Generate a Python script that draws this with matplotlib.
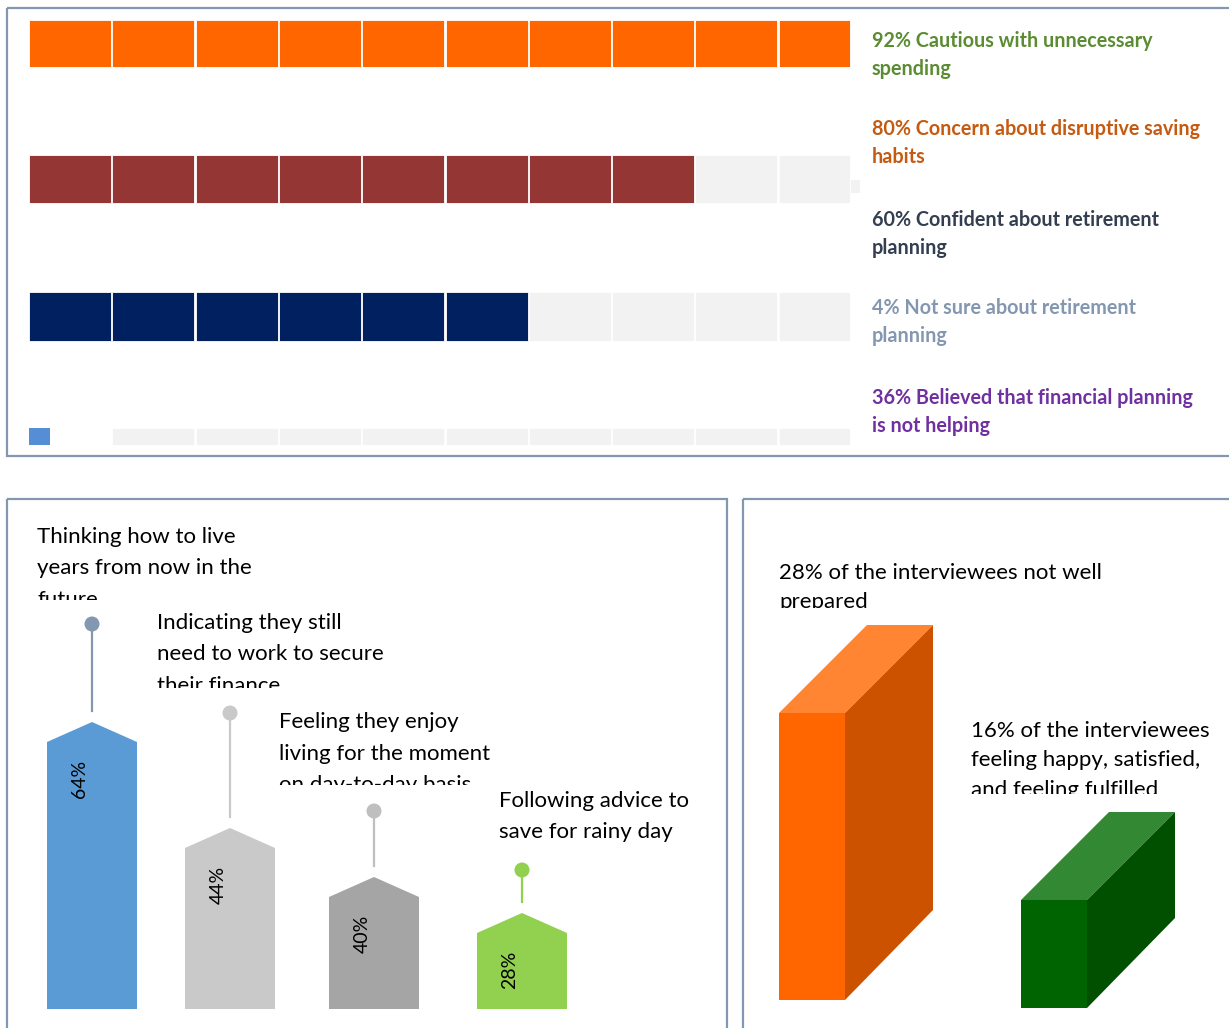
import numpy as np
import matplotlib.pyplot as plt
from matplotlib.patches import Rectangle, Polygon, Circle

plt.rcParams['font.family'] = ['Lato', 'DejaVu Sans']

# ---- data ----
# top panel: filled segments (out of 10) per row
seg_filled = [10, 8, 6, 0.25]
seg_colors = ['#FF6600', '#943634', '#002060', '#558ED5']
top_labels = [
    ['92% Cautious with unnecessary', 'spending'],
    ['80% Concern about disruptive saving', 'habits'],
    ['60% Confident about retirement', 'planning'],
    ['4% Not sure about retirement', 'planning'],
    ['36% Believed that financial planning', 'is not helping'],
]
top_label_colors = ['#5B8C32', '#C55A11', '#333F50', '#8497B0', '#7030A0']

# bottom left: pictogram bars
house_pct = ['64%', '44%', '40%', '28%']
house_height = [287, 181, 132, 96]      # drawn height incl. roof (px)
stem_len = [98, 115, 66, 43]            # pin length above the roof (px)
house_colors = ['#5B9BD5', '#C9C9C9', '#A5A5A5', '#92D050']
pin_colors = ['#8497B0', '#C9C9C9', '#BFBFBF', '#92D050']
house_text = [
    ['Thinking how to live', 'years from now in the', 'future'],
    ['Indicating they still', 'need to work to secure', 'their finance'],
    ['Feeling they enjoy', 'living for the moment', 'on day-to-day basis'],
    ['Following advice to', 'save for rainy day'],
]

# bottom right: 3d boxes
box_height = [287, 108]
box_colors = [('#FF6600', '#FF8533', '#CC5200'), ('#006400', '#338833', '#005000')]
box_text = [
    ['28% of the interviewees not well', 'prepared'],
    ['16% of the interviewees', 'feeling happy, satisfied,', 'and feeling fulfilled'],
]

W, H = 1229, 1028
fig = plt.figure(figsize=(W / 100, H / 100), dpi=100)
ax = fig.add_axes([0, 0, 1, 1])
ax.set_xlim(0, W)
ax.set_ylim(H, 0)
ax.axis('off')

border = '#8497B0'
for x0, y0, x1, y1 in [(7, 8, 1245, 456), (7, 499, 727, 1045), (743, 499, 1245, 1045)]:
    ax.add_patch(Rectangle((x0, y0), x1 - x0, y1 - y0, fill=False, ec=border, lw=1.6))

# ---- top panel ----
bar_x0, bar_end, step, seg_w = 29, 850, 83.3, 82
row_top = [20, 155, 292, 428]
row_h = [47, 48, 49, 17]
for r, n in enumerate(seg_filled):
    for i in range(10):
        left = bar_x0 + i * step
        w = min(seg_w, bar_end - left)
        if i < int(n):
            ax.barh(row_top[r], w, height=row_h[r], left=left, align='edge',
                    color=seg_colors[r], ec='white', lw=0.6)
        elif i == int(n) and n % 1:
            ax.barh(row_top[r], seg_w * (n % 1), height=row_h[r], left=left,
                    align='edge', color=seg_colors[r], lw=0)
        else:
            ax.barh(row_top[r], w, height=row_h[r], left=left, align='edge',
                    color='#F2F2F2', ec='white', lw=0.6)
# small stray tab at the end of the second row
ax.barh(180, 9, height=13, left=851, align='edge', color='#F2F2F2', lw=0)

label_y = [47, 135, 226, 314, 404]
for lines, y, c in zip(top_labels, label_y, top_label_colors):
    for k, line in enumerate(lines):
        ax.text(872, y + k * 28, line, color=c, fontsize=14.2, fontweight='bold',
                va='baseline', ha='left')

# ---- bottom left ----
base = 1009
house_left = [47, 185, 329, 477]
for i, (h, c) in enumerate(zip(house_height, house_colors)):
    left = house_left[i]
    cx = left + 45
    top = base - h
    roof = [(left, base), (left, top + 20), (cx, top), (left + 90, top + 20), (left + 90, base)]
    ax.add_patch(Polygon(roof, closed=True, color=c, lw=0))
    ax.text(left + 33, top + 57, house_pct[i], rotation=90, fontsize=14,
            ha='center', va='center', color='black')
    pin_top = top - stem_len[i]
    ax.plot([cx, cx], [top - 11, pin_top], color=pin_colors[i], lw=1.6)
    ax.add_patch(Circle((cx, pin_top), 7.5, color=pin_colors[i], lw=0))

# (x, first baseline, clip line)
text_pos = [(37, 543, 600), (157, 629, 688), (279, 728, 785), (499, 807, None)]
for lines, (tx, ty, clip_y) in zip(house_text, text_pos):
    for k, line in enumerate(lines):
        t = ax.text(tx, ty + k * 31.5, line, fontsize=16, va='baseline', ha='left')
        if clip_y is not None:
            t.set_clip_path(Rectangle((0, 0), W, clip_y, transform=ax.transData))
            t.set_clip_on(True)

# ---- bottom right ----
depth = 88
box_left = [779, 1021]
box_base = [1000, 1008]
for i, h in enumerate(box_height):
    front, topc, side = box_colors[i]
    x0, y0 = box_left[i], box_base[i]
    yt = y0 - h
    ax.add_patch(Polygon([(x0, y0), (x0, yt), (x0 + 66, yt), (x0 + 66, y0)], color=front, lw=0))
    ax.add_patch(Polygon([(x0, yt), (x0 + 66, yt), (x0 + 66 + depth, yt - depth),
                          (x0 + depth, yt - depth)], color=topc, lw=0))
    ax.add_patch(Polygon([(x0 + 66, yt), (x0 + 66 + depth, yt - depth),
                          (x0 + 66 + depth, y0 - depth - 2), (x0 + 66, y0)], color=side, lw=0))

box_text_pos = [(779, 579, 608), (971, 737, 794)]
for lines, (tx, ty, clip_y) in zip(box_text, box_text_pos):
    for k, line in enumerate(lines):
        t = ax.text(tx, ty + k * 29.5, line, fontsize=16, va='baseline', ha='left')
        t.set_clip_path(Rectangle((0, 0), W, clip_y, transform=ax.transData))
        t.set_clip_on(True)

fig.savefig('out.png', dpi=100, facecolor='white')
